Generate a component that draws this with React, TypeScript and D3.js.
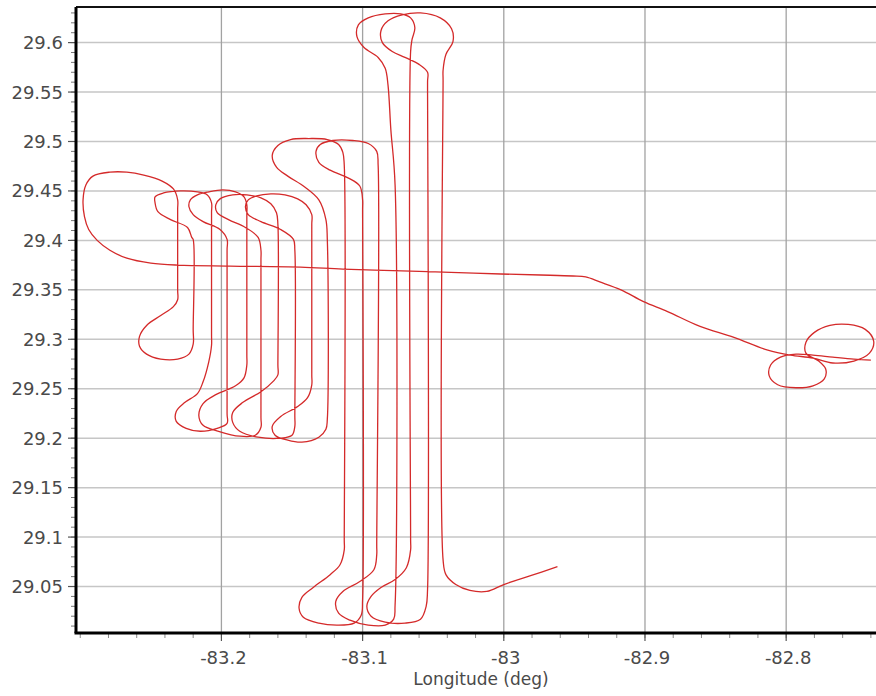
import { useEffect, useRef } from 'react';
import * as d3 from 'd3';

const WIDTH = 876;
const HEIGHT = 696;
const PLOT = { left: 76, right: 885, top: 7, bottom: 633 } as const;
const FONT = 'DejaVu Sans, Verdana, sans-serif';

const LON_DOMAIN: [number, number] = [-83.303, -82.73];
const LAT_DOMAIN: [number, number] = [29.003, 29.636];

const LON_MAJOR = [-83.2, -83.1, -83.0, -82.9, -82.8];
const LON_LABELS = ['-83.2', '-83.1', '-83', '-82.9', '-82.8'];
const LAT_MAJOR = [29.05, 29.1, 29.15, 29.2, 29.25, 29.3, 29.35, 29.4, 29.45, 29.5, 29.55, 29.6];
const LAT_LABELS = ['29.05', '29.1', '29.15', '29.2', '29.25', '29.3', '29.35', '29.4', '29.45', '29.5', '29.55', '29.6'];
const X_LABEL = 'Longitude (deg)';

type Pt = [number, number]; // [lon, lat]

// ferry in from the east, two orbits, then west along ~29.37
const FERRY: Pt[] = [
  [-82.74, 29.279], [-82.752, 29.28], [-82.767, 29.282], [-82.781, 29.284], [-82.793, 29.285],
  [-82.804, 29.282], [-82.811, 29.274], [-82.812, 29.263], [-82.806, 29.254], [-82.793, 29.251],
  [-82.781, 29.253], [-82.773, 29.26], [-82.772, 29.27], [-82.777, 29.278], [-82.786, 29.286],
  [-82.786, 29.297], [-82.78, 29.307], [-82.769, 29.314], [-82.756, 29.315], [-82.744, 29.31],
  [-82.738, 29.298], [-82.741, 29.286], [-82.752, 29.278], [-82.767, 29.276], [-82.781, 29.281],
  [-82.797, 29.284], [-82.813, 29.289], [-82.837, 29.302], [-82.861, 29.313], [-82.884, 29.328],
  [-82.901, 29.338], [-82.917, 29.35], [-82.932, 29.358], [-82.942, 29.363], [-82.951, 29.364],
  [-82.974, 29.365], [-83.002, 29.366], [-83.043, 29.368], [-83.066, 29.369], [-83.114, 29.371],
  [-83.144, 29.373], [-83.194, 29.374], [-83.231, 29.375], [-83.25, 29.377],
];

// big turn at the west end, into the first leg
const WEST_TURN: Pt[] = [
  [-83.267, 29.382], [-83.279, 29.39], [-83.288, 29.4], [-83.294, 29.411], [-83.297, 29.424],
  [-83.298, 29.441], [-83.296, 29.456], [-83.291, 29.465], [-83.279, 29.469], [-83.267, 29.469],
  [-83.255, 29.466], [-83.242, 29.46], [-83.234, 29.452], [-83.231, 29.441],
];

// short legs (west block)
const SHORT_LEGS: Pt[] = [
  [-83.231, 29.431], [-83.231, 29.35],
  [-83.231, 29.34], [-83.234, 29.333], [-83.243, 29.324], [-83.253, 29.314], [-83.258, 29.303],
  [-83.258, 29.293], [-83.253, 29.285], [-83.243, 29.28], [-83.231, 29.28], [-83.223, 29.285],
  [-83.22, 29.295], [-83.22, 29.31],
  [-83.22, 29.401], [-83.221, 29.403], [-83.224, 29.413], [-83.236, 29.421], [-83.245, 29.429],
  [-83.247, 29.438], [-83.247, 29.444], [-83.241, 29.448], [-83.229, 29.45], [-83.217, 29.449],
  [-83.21, 29.446], [-83.207, 29.438], [-83.207, 29.428],
  [-83.207, 29.304], [-83.207, 29.294], [-83.209, 29.277], [-83.213, 29.257], [-83.217, 29.245],
  [-83.226, 29.236], [-83.232, 29.227], [-83.232, 29.217], [-83.225, 29.21], [-83.215, 29.207],
  [-83.203, 29.21], [-83.196, 29.215], [-83.196, 29.225],
  [-83.196, 29.39], [-83.196, 29.401], [-83.201, 29.411], [-83.213, 29.419], [-83.22, 29.426],
  [-83.223, 29.434], [-83.222, 29.441], [-83.217, 29.446], [-83.209, 29.449], [-83.199, 29.451],
  [-83.19, 29.449], [-83.184, 29.444], [-83.182, 29.436], [-83.182, 29.426],
  [-83.182, 29.284], [-83.182, 29.274], [-83.184, 29.261], [-83.19, 29.253], [-83.204, 29.244],
  [-83.213, 29.235], [-83.216, 29.223], [-83.213, 29.213], [-83.202, 29.207], [-83.187, 29.202],
  [-83.176, 29.203], [-83.172, 29.211], [-83.172, 29.221],
  [-83.172, 29.38], [-83.172, 29.39], [-83.174, 29.403], [-83.183, 29.413], [-83.195, 29.421],
  [-83.203, 29.428], [-83.204, 29.436], [-83.201, 29.442], [-83.192, 29.446], [-83.182, 29.446],
  [-83.172, 29.443], [-83.165, 29.437], [-83.161, 29.428], [-83.16, 29.416],
  [-83.16, 29.274], [-83.16, 29.264], [-83.163, 29.258], [-83.172, 29.247], [-83.185, 29.236],
  [-83.192, 29.226], [-83.192, 29.216], [-83.187, 29.207], [-83.174, 29.201], [-83.158, 29.2],
  [-83.15, 29.203], [-83.148, 29.212], [-83.148, 29.222],
  [-83.148, 29.39], [-83.149, 29.401], [-83.158, 29.411], [-83.172, 29.419], [-83.181, 29.426],
  [-83.183, 29.434], [-83.181, 29.441], [-83.175, 29.445], [-83.165, 29.447], [-83.155, 29.446],
  [-83.146, 29.442], [-83.14, 29.436], [-83.136, 29.426], [-83.136, 29.416],
  [-83.136, 29.264], [-83.136, 29.254], [-83.139, 29.241], [-83.146, 29.232], [-83.158, 29.222],
  [-83.164, 29.212], [-83.162, 29.203], [-83.153, 29.198], [-83.143, 29.196], [-83.131, 29.201],
  [-83.126, 29.209], [-83.125, 29.219],
  [-83.125, 29.401], [-83.126, 29.421], [-83.131, 29.441], [-83.141, 29.454], [-83.153, 29.465],
  [-83.161, 29.474], [-83.164, 29.486], [-83.16, 29.496], [-83.151, 29.502], [-83.138, 29.503],
  [-83.125, 29.502], [-83.117, 29.497], [-83.114, 29.489], [-83.113, 29.476],
];

// long legs (east block)
const LONG_LEGS: Pt[] = [
  [-83.113, 29.097], [-83.113, 29.087], [-83.116, 29.072], [-83.123, 29.062], [-83.135, 29.049],
  [-83.143, 29.039], [-83.145, 29.028], [-83.142, 29.019], [-83.131, 29.013], [-83.118, 29.011],
  [-83.106, 29.013], [-83.101, 29.021], [-83.1, 29.037],
  [-83.1, 29.431], [-83.1, 29.441], [-83.102, 29.455], [-83.11, 29.463], [-83.123, 29.471],
  [-83.131, 29.479], [-83.133, 29.49], [-83.13, 29.497], [-83.121, 29.501], [-83.107, 29.501],
  [-83.096, 29.498], [-83.09, 29.49], [-83.089, 29.476],
  [-83.09, 29.092], [-83.09, 29.082], [-83.092, 29.067], [-83.102, 29.055], [-83.114, 29.045],
  [-83.119, 29.035], [-83.117, 29.023], [-83.109, 29.016], [-83.096, 29.011], [-83.084, 29.011],
  [-83.078, 29.017], [-83.077, 29.031],
  [-83.077, 29.456], [-83.08, 29.512], [-83.082, 29.557], [-83.084, 29.574], [-83.089, 29.585],
  [-83.099, 29.595], [-83.104, 29.606], [-83.103, 29.618], [-83.096, 29.625], [-83.084, 29.629],
  [-83.073, 29.629], [-83.066, 29.625], [-83.063, 29.615], [-83.065, 29.603], [-83.066, 29.591],
  [-83.066, 29.097], [-83.066, 29.087], [-83.069, 29.069], [-83.077, 29.057], [-83.087, 29.049],
  [-83.094, 29.04], [-83.097, 29.03], [-83.094, 29.02], [-83.084, 29.014], [-83.07, 29.013],
  [-83.059, 29.017], [-83.055, 29.03], [-83.054, 29.047],
  [-83.054, 29.56], [-83.054, 29.57], [-83.06, 29.578], [-83.07, 29.585], [-83.079, 29.591],
  [-83.086, 29.6], [-83.087, 29.612], [-83.082, 29.622], [-83.072, 29.628], [-83.059, 29.63],
  [-83.045, 29.625], [-83.037, 29.614], [-83.036, 29.601], [-83.041, 29.588], [-83.043, 29.572],
  [-83.043, 29.562],
];

// last leg and exit to the east
const EXIT: Pt[] = [
  [-83.043, 29.077], [-83.041, 29.062], [-83.034, 29.052], [-83.024, 29.046], [-83.012, 29.045],
  [-83.0, 29.052], [-82.981, 29.061], [-82.962, 29.07],
];

const TRACK: Pt[] = [...FERRY, ...WEST_TURN, ...SHORT_LEGS, ...LONG_LEGS, ...EXIT];

export default function App() {
  const svgRef = useRef<SVGSVGElement | null>(null);

  useEffect(() => {
    const svgEl = svgRef.current;
    if (!svgEl) return;

    const xScale = d3.scaleLinear().domain(LON_DOMAIN).range([PLOT.left, PLOT.right]);
    const yScale = d3.scaleLinear().domain(LAT_DOMAIN).range([PLOT.bottom, PLOT.top]);

    const svg = d3.select(svgEl);
    svg.selectAll('*').remove();

    // ---- grid ------------------------------------------------------------
    svg
      .append('g')
      .selectAll('line')
      .data(LAT_MAJOR)
      .join('line')
      .attr('x1', PLOT.left)
      .attr('x2', WIDTH)
      .attr('y1', (d) => yScale(d))
      .attr('y2', (d) => yScale(d))
      .attr('stroke', '#c6c6c6')
      .attr('stroke-width', 1.5);

    svg
      .append('g')
      .selectAll('line')
      .data(LON_MAJOR)
      .join('line')
      .attr('x1', (d) => xScale(d))
      .attr('x2', (d) => xScale(d))
      .attr('y1', PLOT.top)
      .attr('y2', PLOT.bottom)
      .attr('stroke', '#a2a2a2')
      .attr('stroke-width', 1.3);

    // ---- track -----------------------------------------------------------
    const line = d3
      .line<Pt>()
      .x((d) => xScale(d[0]))
      .y((d) => yScale(d[1]))
      .curve(d3.curveCatmullRom.alpha(0.5));

    svg
      .append('path')
      .datum(TRACK)
      .attr('fill', 'none')
      .attr('stroke', '#d42a2a')
      .attr('stroke-width', 1.3)
      .attr('stroke-linejoin', 'round')
      .attr('d', line);

    // ---- frame / axes ----------------------------------------------------
    svg
      .append('line')
      .attr('x1', PLOT.left)
      .attr('x2', WIDTH)
      .attr('y1', PLOT.top)
      .attr('y2', PLOT.top)
      .attr('stroke', '#111')
      .attr('stroke-width', 2);

    // minor ticks
    const latMinor = d3.range(29.01, 29.635, 0.01);
    const lonMinor = d3.range(-83.3, -82.73, 0.02);

    svg
      .append('g')
      .selectAll('line')
      .data(latMinor)
      .join('line')
      .attr('x1', PLOT.left - 5)
      .attr('x2', PLOT.left)
      .attr('y1', (d) => yScale(d))
      .attr('y2', (d) => yScale(d))
      .attr('stroke', '#777')
      .attr('stroke-width', 1);

    svg
      .append('g')
      .selectAll('line')
      .data(lonMinor)
      .join('line')
      .attr('x1', (d) => xScale(d))
      .attr('x2', (d) => xScale(d))
      .attr('y1', PLOT.bottom)
      .attr('y2', PLOT.bottom + 5)
      .attr('stroke', '#888')
      .attr('stroke-width', 1);

    // major ticks + labels
    const yAxis = svg.append('g');
    yAxis
      .selectAll('line')
      .data(LAT_MAJOR)
      .join('line')
      .attr('x1', PLOT.left - 8)
      .attr('x2', PLOT.left)
      .attr('y1', (d) => yScale(d))
      .attr('y2', (d) => yScale(d))
      .attr('stroke', '#555')
      .attr('stroke-width', 1.2);
    yAxis
      .selectAll('text')
      .data(LAT_MAJOR)
      .join('text')
      .attr('x', PLOT.left - 13)
      .attr('y', (d) => yScale(d))
      .attr('dy', '0.36em')
      .attr('text-anchor', 'end')
      .attr('font-family', FONT)
      .attr('font-size', 18)
      .attr('fill', '#4a4a4a')
      .text((_, i) => LAT_LABELS[i]);

    const xAxis = svg.append('g');
    xAxis
      .selectAll('line')
      .data(LON_MAJOR)
      .join('line')
      .attr('x1', (d) => xScale(d))
      .attr('x2', (d) => xScale(d))
      .attr('y1', PLOT.bottom)
      .attr('y2', PLOT.bottom + 8)
      .attr('stroke', '#555')
      .attr('stroke-width', 1.2);
    xAxis
      .selectAll('text')
      .data(LON_MAJOR)
      .join('text')
      .attr('x', (d) => xScale(d) + 2)
      .attr('y', PLOT.bottom + 31)
      .attr('text-anchor', 'middle')
      .attr('font-family', FONT)
      .attr('font-size', 18)
      .attr('fill', '#4a4a4a')
      .text((_, i) => LON_LABELS[i]);

    svg
      .append('text')
      .attr('x', 481)
      .attr('y', PLOT.bottom + 52)
      .attr('text-anchor', 'middle')
      .attr('font-family', FONT)
      .attr('font-size', 17)
      .attr('fill', '#4a4a4a')
      .text(X_LABEL);

    svg
      .append('line')
      .attr('x1', PLOT.left)
      .attr('x2', PLOT.left)
      .attr('y1', PLOT.top)
      .attr('y2', PLOT.bottom)
      .attr('stroke', '#000')
      .attr('stroke-width', 3);
    svg
      .append('line')
      .attr('x1', PLOT.left - 1.5)
      .attr('x2', WIDTH)
      .attr('y1', PLOT.bottom)
      .attr('y2', PLOT.bottom)
      .attr('stroke', '#000')
      .attr('stroke-width', 3);
  }, []);

  return (
    <svg
      ref={svgRef}
      width={WIDTH}
      height={HEIGHT}
      viewBox={`0 0 ${WIDTH} ${HEIGHT}`}
      style={{ position: 'absolute', left: 0, top: 0, display: 'block', background: '#fff' }}
      role="img"
      aria-label="Flight track, latitude against longitude"
    />
  );
}
